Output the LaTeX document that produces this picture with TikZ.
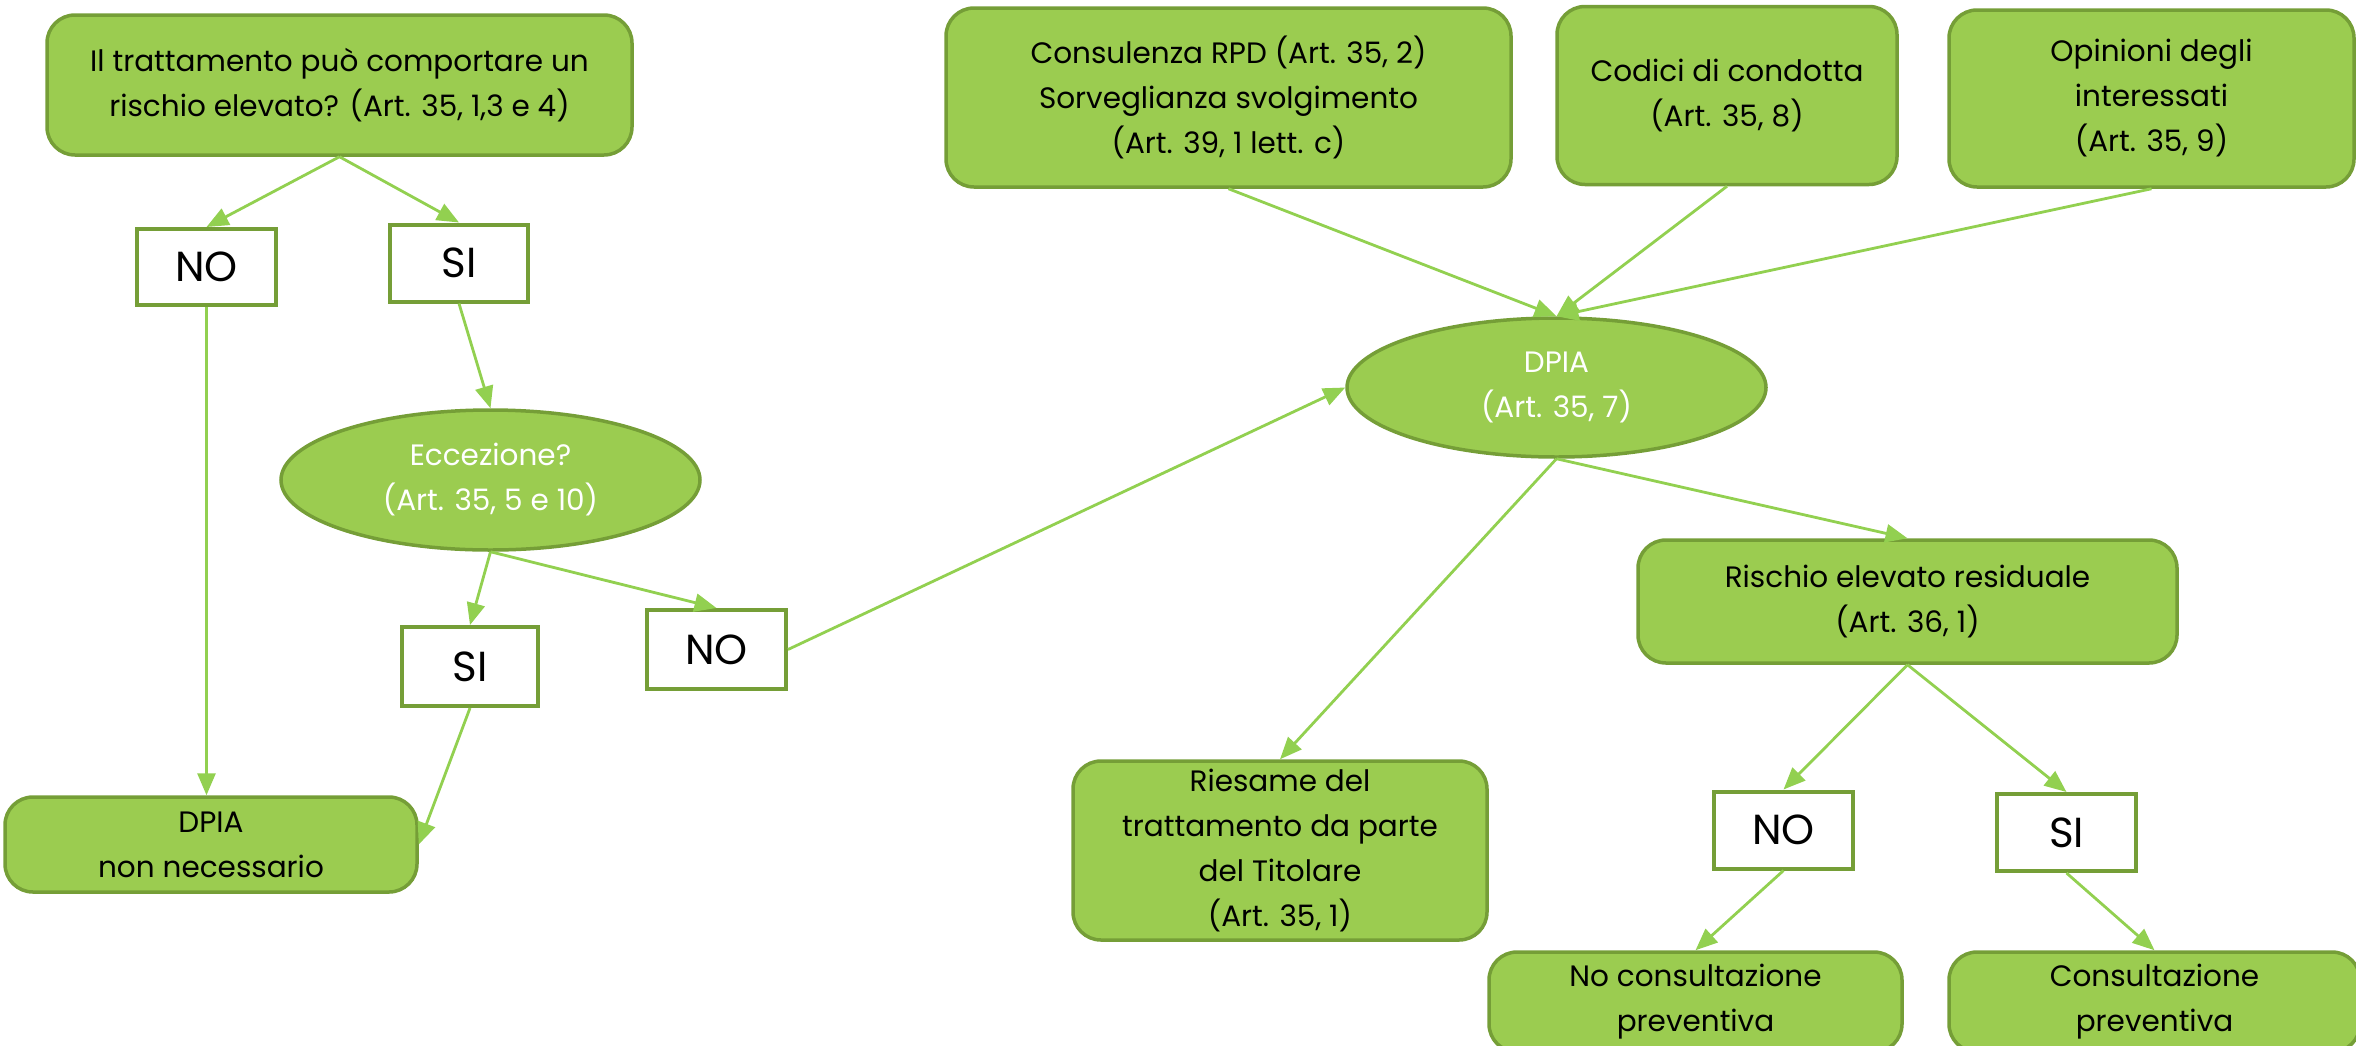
\documentclass[tikz,border=0pt]{standalone}
\usepackage{fontspec}
\setmainfont{Poppins}
\usetikzlibrary{arrows.meta,shapes.geometric}
\definecolor{gfill}{RGB}{155,204,80}
\definecolor{gborder}{RGB}{117,158,55}
\definecolor{garrow}{RGB}{146,208,80}
\tikzset{
  gbox/.style={draw=gborder, fill=gfill, line width=3.5pt, rounded corners=28pt,
    align=center, text=black, inner sep=0pt, font=\fontsize{29.5}{45}\selectfont},
  wbox/.style={draw=gborder, fill=white, line width=4pt, inner sep=0pt,
    text=black, font=\fontsize{42}{48}\selectfont},
  gell/.style={ellipse, draw=gborder, fill=gfill, line width=3.5pt, text=white,
    align=center, inner sep=0pt, font=\fontsize{29.5}{45}\selectfont},
  conn/.style={draw=garrow, line width=2.8pt, -{Triangle[length=22pt,width=18pt]}}
}
\begin{document}
\begin{tikzpicture}[x=1pt,y=-1pt]
\useasboundingbox (0,0) rectangle (2356,1045);
\clip (0,0) rectangle (2356,1045);
% left part
\node[gbox, minimum width=585pt, minimum height=140pt] (q1) at (339.5,85)
  {Il trattamento può comportare un\\rischio elevato? (Art. 35, 1,3 e 4)};
\node[wbox, minimum width=139pt, minimum height=76pt] (no1) at (206.5,267) {NO};
\node[wbox, minimum width=138pt, minimum height=77pt] (si1) at (459,263) {SI};
\node[gell, minimum width=419pt, minimum height=140pt] (ecc) at (490.5,480)
  {Eccezione?\\(Art. 35, 5 e 10)};
\node[gbox, minimum width=412pt, minimum height=95pt] (dpiann) at (211,844.5)
  {DPIA\\non necessario};
\node[wbox, minimum width=136pt, minimum height=79pt] (si2) at (470,666.5) {SI};
\node[wbox, minimum width=139pt, minimum height=79pt] (no2) at (716.5,649.5) {NO};
% top right
\node[gbox, minimum width=565pt, minimum height=179pt] (cons) at (1228.5,97.5)
  {Consulenza RPD (Art. 35, 2)\\Sorveglianza svolgimento\\(Art. 39, 1 lett. c)};
\node[gbox, minimum width=340pt, minimum height=178pt] (cod) at (1727,95.5)
  {Codici di condotta\\(Art. 35, 8)};
\node[gbox, minimum width=405pt, minimum height=177pt] (opi) at (2151.5,98.5)
  {Opinioni degli\\interessati\\(Art. 35, 9)};
\node[gell, minimum width=419pt, minimum height=139pt] (dpia) at (1556.5,387.5)
  {DPIA\\(Art. 35, 7)};
\node[gbox, minimum width=539pt, minimum height=123pt] (ris) at (1907.5,601.5)
  {Rischio elevato residuale\\(Art. 36, 1)};
\node[gbox, minimum width=414pt, minimum height=179pt] (ries) at (1280,850.5)
  {Riesame del\\trattamento da parte\\del Titolare\\(Art. 35, 1)};
\node[wbox, minimum width=139pt, minimum height=77pt] (no3) at (1783.5,830) {NO};
\node[wbox, minimum width=139pt, minimum height=77pt] (si3) at (2066.5,832.5) {SI};
\node[gbox, minimum width=413pt, minimum height=100pt] (nocons) at (1695.5,1002)
  {No consultazione\\preventiva};
\node[gbox, minimum width=411pt, minimum height=100pt] (conscons) at (2154.5,1002)
  {Consultazione\\preventiva};
% connectors
\draw[conn] (q1.south) -- (no1.north);
\draw[conn] (q1.south) -- (si1.north);
\draw[conn] (no1.south) -- (no1.south |- dpiann.north);
\draw[conn] (si1.south) -- (ecc.north);
\draw[conn] (ecc.south) -- (si2.north);
\draw[conn] (ecc.south) -- (no2.north);
\draw[conn] (si2.south) -- (dpiann.east);
\draw[conn] (no2.east) -- (dpia.west);
\draw[conn] (cons.south) -- (dpia.north);
\draw[conn] (cod.south) -- (dpia.north);
\draw[conn] (opi.south) -- (dpia.north);
\draw[conn] (dpia.south) -- (ries.north);
\draw[conn] (dpia.south) -- (ris.north);
\draw[conn] (ris.south) -- (no3.north);
\draw[conn] (ris.south) -- (si3.north);
\draw[conn] (no3.south) -- (nocons.north);
\draw[conn] (si3.south) -- (conscons.north);
\end{tikzpicture}
\end{document}
